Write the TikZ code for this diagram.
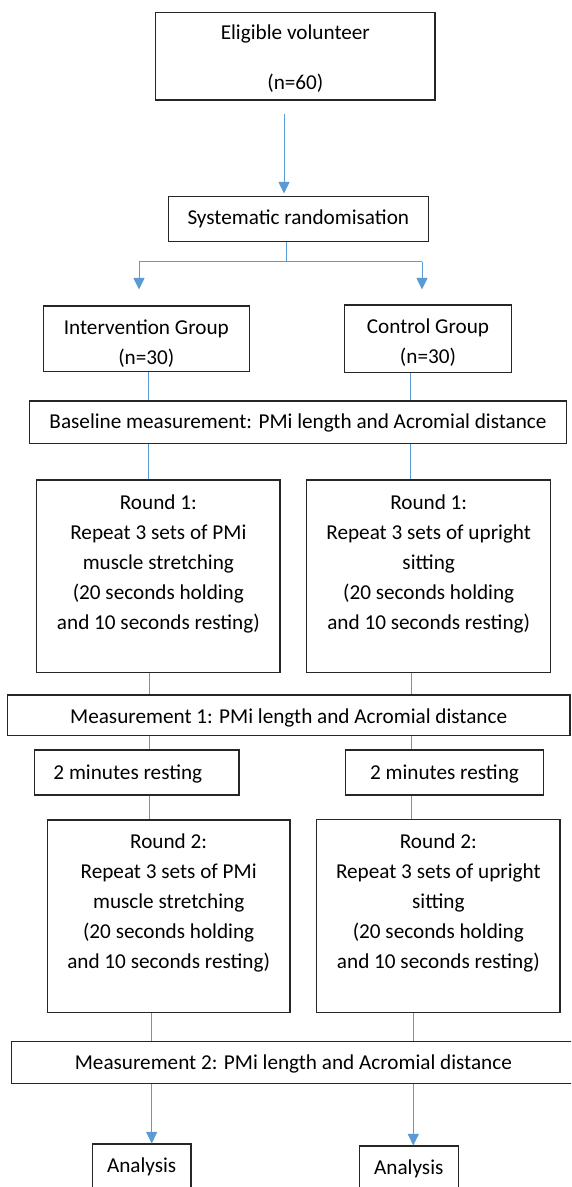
\documentclass[tikz,border=0pt]{standalone}
\usepackage{fontspec}
\setmainfont{Carlito}
\usetikzlibrary{arrows.meta}

\definecolor{linkblue}{HTML}{5B9BD5}
\newcommand{\tpad}[1]{\rule{0pt}{#1pt}}
\newcommand{\bpad}[1]{\rule[-#1pt]{0pt}{#1pt}}

\begin{document}
\begin{tikzpicture}[x=1pt, y=-1pt,
  stage/.style={draw=black!85, line width=1.1pt, align=center, inner sep=0pt,
    font=\fontsize{21.2}{30}\selectfont},
  link/.style={draw=linkblue, line width=1pt},
  pointer/.style={link, -{Triangle[length=11.5pt,width=11pt]}}]

\useasboundingbox (0,0) rectangle (571,1187);
\clip (0,0) rectangle (571,1187);

\node[stage, minimum width=279.3pt, minimum height=87.3pt] (elig) at (295.35,56.35)
  {\tpad{27.1}Eligible volunteer\\[20pt](n=60)\bpad{10.2}};
\node[stage, minimum width=260pt, minimum height=45pt] (rand) at (298.3,219.2)
  {\tpad{28.1}Systematic randomisation\bpad{16.9}};

\node[stage, minimum width=206pt, minimum height=65.7pt] (intv) at (146.3,338.85)
  {\tpad{28.5}Intervention Group\\(n=30)\bpad{7.2}};
\node[stage, minimum width=167.4pt, minimum height=67.7pt] (ctrl) at (428,338.85)
  {\tpad{28.2}Control Group\\(n=30)\bpad{9.5}};

\node[stage, minimum width=537.4pt, minimum height=42.3pt] (base) at (298,422.15)
  {\tpad{27.75}Baseline measurement: PMi length and Acromial distance\bpad{14.55}};

\node[stage, minimum width=243.3pt, minimum height=192.7pt] (roundAL) at (158.35,576.35)
  {\tpad{29}Round 1:\\Repeat 3 sets of PMi\\muscle stretching\\(20 seconds holding\\and 10 seconds resting)\bpad{43.7}};
\node[stage, minimum width=244pt, minimum height=192.3pt] (roundAR) at (428.7,576.15)
  {\tpad{29}Round 1:\\Repeat 3 sets of upright\\sitting\\(20 seconds holding\\and 10 seconds resting)\bpad{43.3}};

\node[stage, minimum width=562.7pt, minimum height=40.7pt] (measA) at (288.65,715.35)
  {\tpad{28}Measurement 1: PMi length and Acromial distance\bpad{12.7}};

\node[stage, minimum width=204.3pt, minimum height=45pt] (restL) at (136.85,772.5)
  {\tpad{29.5}2 minutes resting\rule{18pt}{0pt}\bpad{15.5}};
\node[stage, minimum width=197.6pt, minimum height=45pt] (restR) at (444.5,772.5)
  {\tpad{29.5}2 minutes resting\bpad{15.5}};

\node[stage, minimum width=242.7pt, minimum height=192.3pt] (roundBL) at (168.65,916.15)
  {\tpad{28.5}Round 2:\\Repeat 3 sets of PMi\\muscle stretching\\(20 seconds holding\\and 10 seconds resting)\bpad{43.8}};
\node[stage, minimum width=243.3pt, minimum height=193pt] (roundBR) at (438.35,915.8)
  {\tpad{29.2}Round 2:\\Repeat 3 sets of upright\\sitting\\(20 seconds holding\\and 10 seconds resting)\bpad{43.8}};

\node[stage, minimum width=563.3pt, minimum height=41.6pt] (measB) at (293.35,1062.5)
  {\tpad{27.6}Measurement 2: PMi length and Acromial distance\bpad{14}};

\node[stage, minimum width=98.7pt, minimum height=56pt] (anlL) at (141.65,1172)
  {\tpad{28.5}Analysis\bpad{27.5}};
\node[stage, minimum width=99pt, minimum height=54pt] (anlR) at (408.8,1173)
  {\tpad{28.5}Analysis\bpad{25.5}};

% connectors
\coordinate (stem) at (284,0);
\coordinate (fork) at (286,261.7);
\coordinate (splitL) at (139,261.7);
\coordinate (splitR) at (422,261.7);

\coordinate (colLa) at (148,0);
\coordinate (colRa) at (410.5,0);
\coordinate (colLb) at (149.5,0);
\coordinate (colRb) at (411.5,0);
\coordinate (colLc) at (151.7,0);
\coordinate (colRc) at (413.3,0);

\draw[pointer, shorten <=13pt, shorten >=2.7pt] (elig.south -| stem) -- (rand.north -| stem);

\draw[link] (rand.south -| fork) -- (fork);
\draw[link] (splitL) -- (splitR);
\draw[pointer, shorten >=16pt] (splitL) -- (intv.north -| splitL);
\draw[pointer, shorten >=15pt] (splitR) -- (ctrl.north -| splitR);

\draw[link] (intv.south -| colLa) -- (base.north -| colLa);
\draw[link] (ctrl.south -| colRa) -- (base.north -| colRa);
\draw[link] (base.south -| colLa) -- (roundAL.north -| colLa);
\draw[link] (base.south -| colRa) -- (roundAR.north -| colRa);

\draw[link] (roundAL.south -| colLb) -- (measA.north -| colLb);
\draw[link] (roundAR.south -| colRb) -- (measA.north -| colRb);
\draw[link] (measA.south -| colLb) -- (restL.north -| colLb);
\draw[link] (measA.south -| colRb) -- (restR.north -| colRb);
\draw[link] (restL.south -| colLb) -- (roundBL.north -| colLb);
\draw[link] (restR.south -| colRb) -- (roundBR.north -| colRb);

\draw[link] (roundBL.south -| colLc) -- (measB.north -| colLc);
\draw[link] (roundBR.south -| colRc) -- (measB.north -| colRc);
\draw[pointer] (measB.south -| colLc) -- (anlL.north -| colLc);
\draw[pointer] (measB.south -| colRc) -- (anlR.north -| colRc);

\end{tikzpicture}
\end{document}
